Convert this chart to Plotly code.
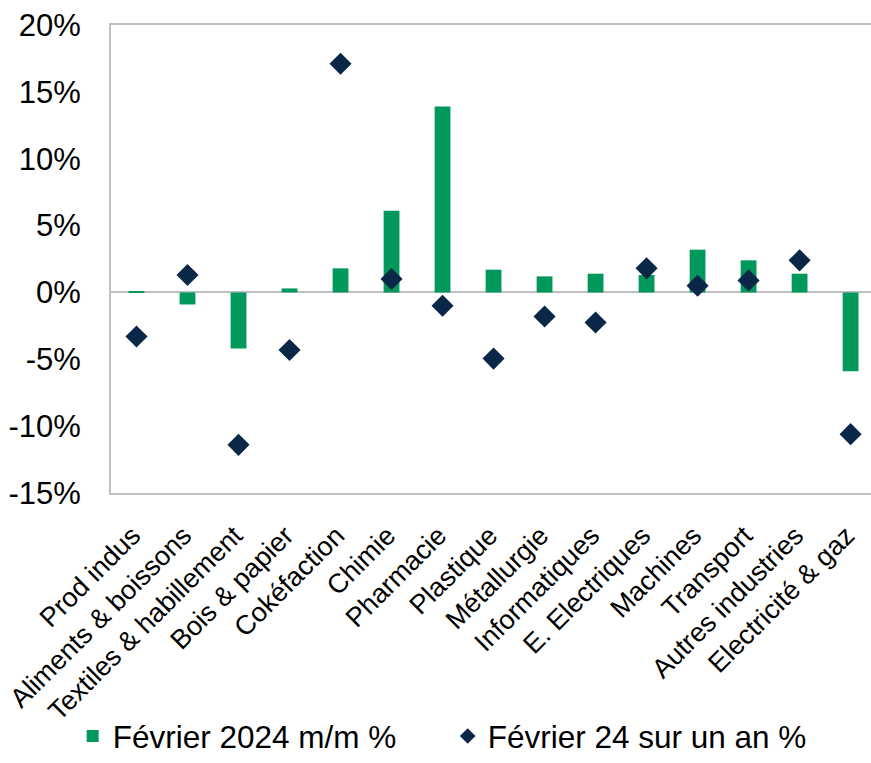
import plotly.graph_objects as go

categories = ["Prod indus", "Aliments & boissons", "Textiles & habillement", "Bois & papier",
              "Cokéfaction", "Chimie", "Pharmacie", "Plastique", "Métallurgie", "Informatiques",
              "E. Electriques", "Machines", "Transport", "Autres industries", "Electricité & gaz"]
mm_values = [0.1, -0.9, -4.2, 0.3, 1.8, 6.1, 13.9, 1.7, 1.2, 1.4, 1.3, 3.2, 2.4, 1.4, -5.9]
yoy_values = [-3.3, 1.3, -11.4, -4.3, 17.1, 1.0, -1.0, -4.95, -1.8, -2.25, 1.8, 0.5, 0.9, 2.4, -10.6]
y_ticks = [-15, -10, -5, 0, 5, 10, 15, 20]
y_tick_labels = [f"{v}%" for v in y_ticks]

GREEN = "#00985B"
NAVY = "#0B2747"
AXIS = "#BFBFBF"

fig = go.Figure()
fig.add_trace(go.Bar(x=categories, y=mm_values, name="Février 2024 m/m %",
                     marker=dict(color=GREEN, line=dict(width=0)), width=0.31))
fig.add_trace(go.Scatter(x=categories, y=yoy_values, name="Février 24 sur un an %", mode="markers",
                         marker=dict(symbol="diamond", size=17, color=NAVY)))

fig.update_layout(
    width=871, height=763,
    margin=dict(l=111, r=0, t=25, b=270),
    plot_bgcolor="white", paper_bgcolor="white",
    font=dict(family="Liberation Sans, Arial, sans-serif", color="black"),
    showlegend=True,
    legend=dict(orientation="h", x=0.443, xanchor="center", y=-0.5769, yanchor="bottom",
                font=dict(size=31.5), itemsizing="constant", traceorder="normal",
                itemwidth=30, entrywidthmode="pixels", entrywidth=330),
)
fig.update_yaxes(range=[-15, 20], tickvals=y_ticks, ticktext=y_tick_labels,
                 tickfont=dict(size=31), showgrid=False, zeroline=True, zerolinecolor=AXIS,
                 zerolinewidth=2, showline=True, linecolor=AXIS, linewidth=2, mirror=False,
                 ticks="", automargin=False, ticklabelstandoff=22)
fig.update_xaxes(tickangle=-45, tickfont=dict(size=27), showgrid=False, showline=True,
                 linecolor=AXIS, linewidth=2, mirror=True, ticks="", automargin=False,
                 range=[-0.5, 14.4], ticklabelshift=-4, ticklabelstandoff=14)

fig.write_html("out.html", config={"displayModeBar": False},
               post_script="document.body.style.margin='0';")
